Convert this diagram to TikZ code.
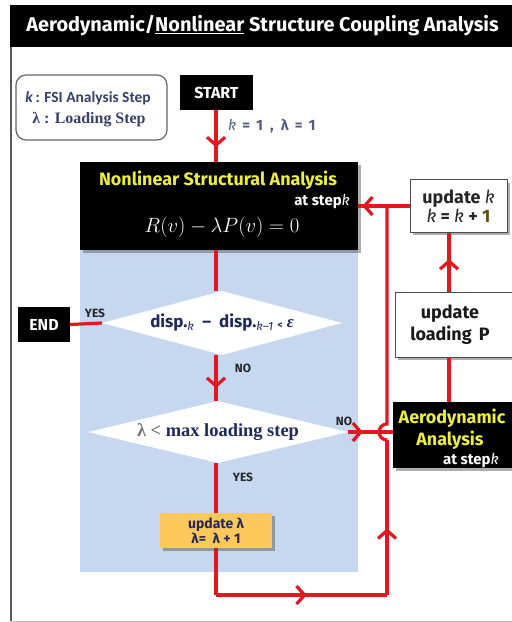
\documentclass[tikz,border=0pt]{standalone}
\usepackage{fontspec}
\setmainfont{Fira Sans}
\newfontfamily\calib{Carlito}
\newfontfamily\serifb{Liberation Serif}
\usetikzlibrary{arrows.meta,shapes.geometric,shadows,decorations.markings,calc}

\definecolor{flowred}{RGB}{228,22,30}
\definecolor{panelblue}{RGB}{197,216,240}
\definecolor{hiyellow}{RGB}{238,238,60}
\definecolor{lamorange}{RGB}{252,200,92}
\definecolor{slatetext}{RGB}{52,64,106}
\definecolor{navytext}{RGB}{30,42,94}
\definecolor{goldone}{RGB}{96,76,20}

\newcommand{\fs}[1]{\fontsize{#1}{\fpeval{#1*1.2}}\selectfont}

\begin{document}
\begin{tikzpicture}[x=1bp,y=-1bp,
  flow/.style={draw=flowred, line width=3.2bp},
  chev/.style={postaction={decorate}, decoration={markings,
      mark=at position #1 with {\arrow{Straight Barb[length=8bp,width=18bp]}}}},
  blackbox/.style={fill=black, text=white, inner sep=0pt, font=\bfseries},
  shadowed/.style={drop shadow={shadow xshift=3bp, shadow yshift=-3bp, opacity=0.45, fill=black!70}},
  lbl/.style={inner sep=0pt, font=\fs{12}\bfseries, text=black!85},
  plain/.style={inner sep=0pt}
]
\useasboundingbox (0,0) rectangle (512,622);
\fill[white] (0,0) rectangle (512,622);

% frame
\draw[black!65, line width=1.3bp] (11,40) -- (11,621);
\draw[black!25, line width=0.8bp] (11,621) -- (512,621);

% title bar
\node[blackbox, minimum width=505bp, minimum height=42bp, font=\fs{20}\bfseries] (title) at (262.5,26)
  {Aerodynamic/\underline{Nonlinear} Structure Coupling Analysis};

% light blue panel behind the inner loop
\fill[panelblue] (80,250) rectangle (358,572);

% legend
\node[draw=black!60, line width=1.2bp, rounded corners=10bp, fill=white,
      minimum width=151bp, minimum height=65bp] (legend) at (91.5,107.5) {};
\node[plain, text=slatetext, font=\calib\fs{15.5}\bfseries] (leg1) at (88,98)
  {\textit{k}\,: FSI Analysis Step};
\node[plain, text=slatetext, font=\serifb\fs{16}\bfseries] (leg2) at (89,120)
  {λ : Loading Step};

% start
\node[blackbox, minimum width=73bp, minimum height=35bp, font=\fs{16}\bfseries] (start) at (216.5,92.5) {START};
\node[plain, text=slatetext!85, font=\fs{15}\bfseries, anchor=west] (init) at (228,126)
  {\textit{\mdseries k}\ \,=\ \,1\ \ ,\ \ λ\ \,=\ \,1};

% nonlinear structural analysis
\node[blackbox, shadowed, minimum width=278bp, minimum height=88bp] (nsa) at (219,206) {};
\node[plain, text=hiyellow, font=\fs{18}\bfseries] (nsa1) at (218,180) {Nonlinear Structural Analysis};
\node[plain, text=white, font=\fs{15}\bfseries, anchor=east] (nsa2) at (350,202) {at step\textit{\mdseries k}};
\node[plain, text=white, font=\fs{21}] (nsa3) at (222,227) {$R(v)-\lambda P(v)=0$};

% convergence check
\node[diamond, aspect=3.75, fill=white, inner sep=0pt, minimum width=240bp, minimum height=64bp,
      text=navytext, font=\fs{17}\bfseries] (dia1) at (222,323)
  {disp.\textsubscript{\mdseries\itshape k}\ \ –\ \ disp.\textsubscript{\mdseries\itshape k–1} \raisebox{-1bp}{\fs{10}<} {\serifb\itshape ε}};

% end
\node[blackbox, minimum width=52bp, minimum height=35bp, font=\fs{16}\bfseries] (endn) at (44,324.5) {END};

% loading step check
\node[diamond, aspect=4.2, fill=white, inner sep=0pt, minimum width=260bp, minimum height=62bp,
      text=navytext, font=\serifb\fs{18.5}\bfseries] (dia2) at (218,432)
  {{\color{black!55}λ <} max loading step};

% aerodynamic analysis
\node[blackbox, shadowed, minimum width=124bp, minimum height=66bp] (aero) at (455,435) {};
\node[plain, text=hiyellow, font=\fs{18}\bfseries] (aero1) at (452,418) {Aerodynamic};
\node[plain, text=hiyellow, font=\fs{18}\bfseries] (aero2) at (450,440) {Analysis};
\node[plain, text=white, font=\fs{15}\bfseries] (aero3) at (471,461) {at step\textit{\mdseries k}};

% update loading
\node[draw=black!70, line width=1bp, fill=white, shadowed, minimum width=122bp, minimum height=65bp,
      align=center, font=\fs{18}\bfseries, text=black!90] (updp) at (456,324.5)
  {\hspace*{-12bp}update\\\hspace*{-12bp}loading\, P};

% update k
\node[draw=black!70, line width=1bp, fill=white, shadowed, minimum width=97bp, minimum height=52bp,
      align=center, font=\fs{18}\bfseries, text=black!85] (updk) at (458.5,206)
  {update \textit{\mdseries k}\\[-3bp]\textit{\mdseries k} = \textit{\mdseries k} + {\color{goldone}1}};

% connectors
\coordinate (vx) at (449,0);
\coordinate (lb) at (216,595);
\coordinate (rb) at (387,595);
\coordinate (hop) at (387,432);

\draw[flow, chev=0.72] (start.south -| 216,0) -- (nsa.north -| 216,0);
\draw[flow] (nsa.south -| 216,0) -- (dia1.north -| 216,0);
\draw[flow] (dia1.west) -- (endn.east);
\draw[flow, chev=0.72] (dia1.south -| 216,0) -- (dia2.north -| 216,0);
\draw[flow] (dia2.south -| 216,0) -- (lb);
\draw[flow, chev=0.53] (lb) -- (rb);
\draw[flow, chev=0.43] (rb) -- ($(hop)+(0,8)$);
\draw[flow] ($(hop)+(0,8)$) arc[start angle=270, end angle=90, radius=8bp] -- (rb |- nsa.east);
\draw[flow, chev=0.33] (dia2.east) -- (aero.west |- dia2.east);
\draw[flow, chev=0.92] (updk.west |- nsa.east) -- (nsa.east);
\draw[flow] (vx |- aero.north) -- (vx |- updp.south);
\draw[flow, chev=0.55] (vx |- updp.north) -- (vx |- updk.south);

% update lambda (sits on the downward line)
\node[fill=lamorange, shadowed, minimum width=112bp, minimum height=35bp, inner sep=0pt,
      align=center, font=\fs{14}\bfseries, text=navytext] (updlam) at (216,530.5)
  {update λ\\[-2bp]λ=\ \ λ\ +\ 1};

% branch labels
\node[lbl] (yes1) at (95,313) {YES};
\node[lbl] (no1) at (243,368) {NO};
\node[lbl] (no2) at (344,421) {NO};
\node[lbl] (yes2) at (243,477) {YES};
\end{tikzpicture}
\end{document}
